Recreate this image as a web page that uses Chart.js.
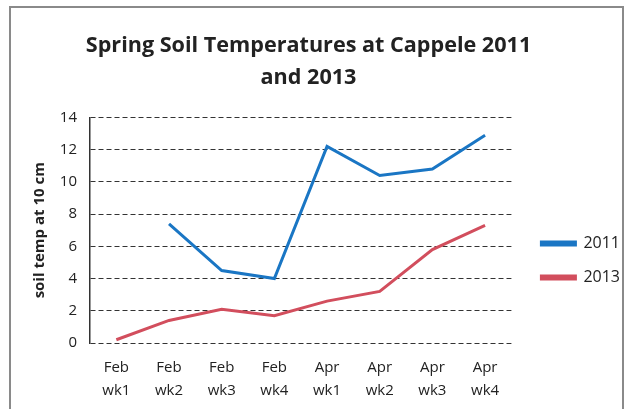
<!DOCTYPE html>
<html>
<head>
<meta charset="utf-8">
<script src="https://cdn.jsdelivr.net/npm/chart.js@4/dist/chart.umd.min.js"></script>
<style>
  body { margin: 0; background: #fff; }
  #wrap { position: relative; width: 629px; height: 409px; overflow: hidden; }
  #frame { position: absolute; left: 9px; top: 6px; width: 611px; height: 420px; border: 2px solid #8a8a8a; }
  canvas { position: absolute; left: 0; top: 0; }
</style>
</head>
<body>
<div id="wrap">
  <div id="frame"></div>
  <canvas id="chart" width="629" height="409"></canvas>
</div>
<script>
// data
const weeks = [['Feb', 'wk1'], ['Feb', 'wk2'], ['Feb', 'wk3'], ['Feb', 'wk4'],
               ['Apr', 'wk1'], ['Apr', 'wk2'], ['Apr', 'wk3'], ['Apr', 'wk4']];
const temps2011 = [null, 7.4, 4.5, 4.0, 12.2, 10.4, 10.8, 12.9];
const temps2013 = [0.2, 1.4, 2.1, 1.7, 2.6, 3.2, 5.8, 7.3];
const yTicks = [0, 2, 4, 6, 8, 10, 12, 14];

const font = "'Open Sans', 'Liberation Sans', sans-serif";

// nudge legend and title to where the original has them
const nudge = {
  id: 'nudge',
  afterLayout(chart) {
    const lg = chart.legend;
    lg.top += 45;
    lg.bottom += 45;
    lg.left += 12;
    lg.right += 12;
    const tb = chart.titleBlock;
    tb.left -= 14;
    tb.right -= 14;
  }
};

new Chart(document.getElementById('chart'), {
  type: 'line',
  data: {
    labels: weeks,
    datasets: [
      {
        label: '2011',
        data: temps2011,
        borderColor: '#1a76c4',
        backgroundColor: '#1a76c4',
        borderWidth: 3,
        pointRadius: 0,
        tension: 0
      },
      {
        label: '2013',
        data: temps2013,
        borderColor: '#d24e5d',
        backgroundColor: '#d24e5d',
        borderWidth: 3,
        pointRadius: 0,
        tension: 0
      }
    ]
  },
  options: {
    responsive: false,
    animation: false,
    layout: { padding: { left: 27, right: 11, top: 30, bottom: 8 } },
    plugins: {
      title: {
        display: true,
        text: ['Spring Soil Temperatures at Cappele 2011', 'and 2013'],
        color: '#222',
        font: { family: font, size: 21.6, weight: 'bold', lineHeight: 1.47 },
        padding: { top: 0, bottom: 24 }
      },
      legend: {
        position: 'right',
        labels: {
          color: '#222',
          font: { family: font, size: 16 },
          boxWidth: 34,
          boxHeight: 3,
          padding: 18
        }
      },
      tooltip: { enabled: false }
    },
    scales: {
      x: {
        offset: true,
        grid: { display: false },
        border: { display: false },
        afterFit: (scale) => {
          scale.height = 58;
        },
        ticks: {
          color: '#222',
          font: { family: font, size: 15, lineHeight: 1.55 },
          maxRotation: 0,
          padding: 5
        }
      },
      y: {
        min: 0,
        max: 14,
        afterBuildTicks: (scale) => {
          scale.ticks = yTicks.map(v => ({ value: v }));
        },
        afterFit: (scale) => {
          scale.width = 63;
        },
        grid: { color: '#333', drawTicks: false },
        border: { color: '#333', width: 1.5, dash: [5, 3] },
        ticks: {
          color: '#222',
          font: { family: font, size: 15 },
          padding: 13
        },
        title: {
          display: true,
          text: 'soil temp at 10 cm',
          color: '#222',
          font: { family: font, size: 15, weight: 'bold' },
          padding: { bottom: 4 }
        }
      }
    }
  },
  plugins: [nudge]
});
</script>
</body>
</html>
